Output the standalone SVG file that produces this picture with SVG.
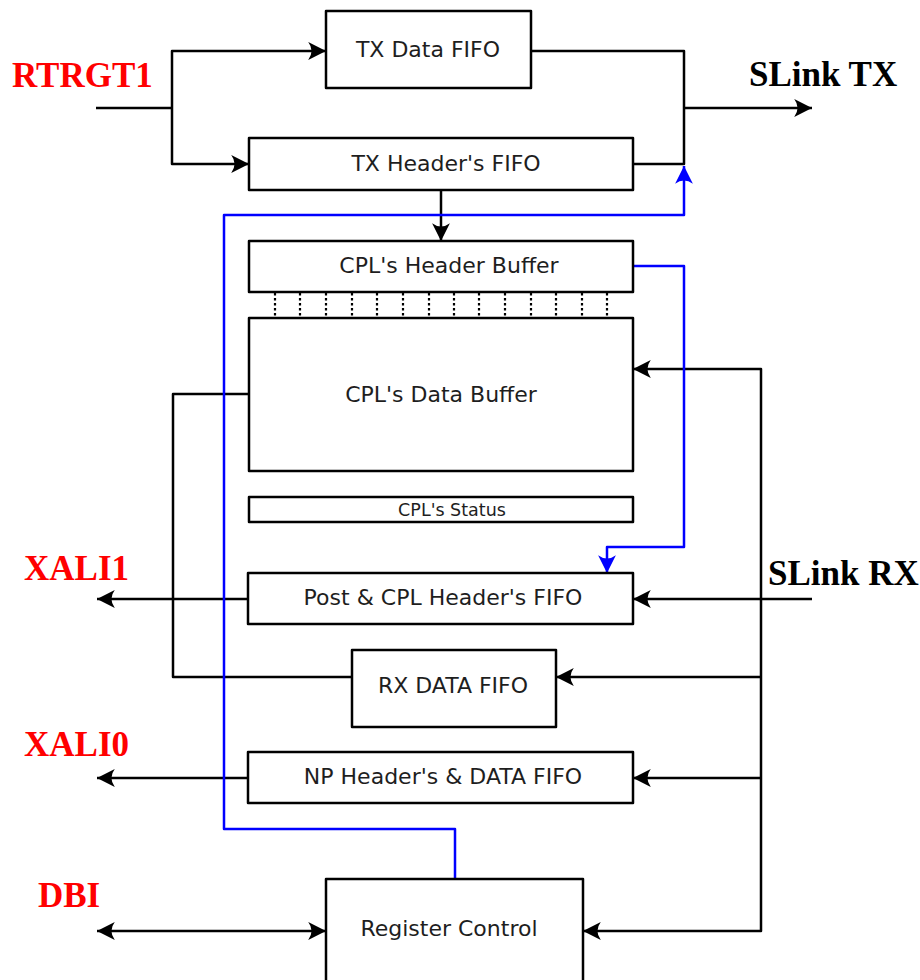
<svg xmlns="http://www.w3.org/2000/svg" width="920" height="980" viewBox="0 0 920 980">
  <style>
    .box { fill: #ffffff; stroke: #000000; stroke-width: 2.5; stroke-linejoin: round; }
    .btxt { font-family: "DejaVu Sans", sans-serif; font-size: 22px; fill: #1e1e1e; text-anchor: middle; }
    .stxt { font-family: "DejaVu Sans", sans-serif; font-size: 17.5px; fill: #1e1e1e; text-anchor: middle; }
    .wire { fill: none; stroke: #000000; stroke-width: 2.5; stroke-linejoin: round; }
    .bus { fill: none; stroke: #0000ff; stroke-width: 2.5; stroke-linejoin: round; }
    .dots { stroke: #000000; stroke-width: 2.2; stroke-dasharray: 2.5 2.5; }
    .port { font-family: "Liberation Serif", serif; font-weight: bold; font-size: 35px; fill: #ff0000; }
    .link { font-family: "Liberation Serif", serif; font-weight: bold; font-size: 35px; fill: #000000; }
  </style>
  <defs>
    <marker id="ah" markerUnits="userSpaceOnUse" markerWidth="20" markerHeight="20" viewBox="-17 -9 18 18" refX="0" refY="0" orient="auto-start-reverse">
      <path d="M0,0 L-16,-8 Q-10,0 -16,8 Z" fill="#000000"/>
    </marker>
    <marker id="ahb" markerUnits="userSpaceOnUse" markerWidth="20" markerHeight="20" viewBox="-17 -9 18 18" refX="0" refY="0" orient="auto">
      <path d="M0,0 L-16,-8 Q-10,0 -16,8 Z" fill="#0000ff"/>
    </marker>
  </defs>

  <rect width="920" height="980" fill="#ffffff"/>

  <!-- connectors -->
  <g id="connectors">
    <!-- RTRGT1 fan-out -->
    <polyline class="wire" points="96,108 172,108"/>
    <polyline class="wire" points="326,51 172,51 172,164 249,164" marker-start="url(#ah)" marker-end="url(#ah)"/>
    <!-- TX FIFOs merge to SLink TX -->
    <polyline class="wire" points="531,51 684,51 684,164 633,164"/>
    <line class="wire" x1="684" y1="108" x2="812" y2="108" marker-end="url(#ah)"/>
    <!-- TX header to CPL header buffer -->
    <line class="wire" x1="441" y1="190" x2="441" y2="241" marker-end="url(#ah)"/>
    <!-- CPL data buffer to RX DATA FIFO loop -->
    <polyline class="wire" points="249,394 173,394 173,677 352,677"/>
    <!-- outputs to XALI1 / XALI0 -->
    <line class="wire" x1="248" y1="599" x2="97" y2="599" marker-end="url(#ah)"/>
    <line class="wire" x1="248" y1="778" x2="97" y2="778" marker-end="url(#ah)"/>
    <!-- SLink RX distribution -->
    <line class="wire" x1="812" y1="599" x2="633" y2="599" marker-end="url(#ah)"/>
    <polyline class="wire" points="633,369 761,369 761,931 583,931" marker-start="url(#ah)" marker-end="url(#ah)"/>
    <line class="wire" x1="761" y1="677" x2="556" y2="677" marker-end="url(#ah)"/>
    <line class="wire" x1="761" y1="778" x2="633" y2="778" marker-end="url(#ah)"/>
    <!-- DBI bidirectional -->
    <line class="wire" x1="97" y1="931" x2="326" y2="931" marker-start="url(#ah)" marker-end="url(#ah)"/>
    <!-- control bus -->
    <polyline class="bus" points="455,879 455,829 224,829 224,215 684,215 684,166" marker-end="url(#ahb)"/>
    <polyline class="bus" points="633,266 684,266 684,547 607,547 607,573" marker-end="url(#ahb)"/>
    <!-- header/data buffer slot ties -->
    <g class="dots">
      <line x1="275" y1="293" x2="275" y2="318"/>
      <line x1="300" y1="293" x2="300" y2="318"/>
      <line x1="326" y1="293" x2="326" y2="318"/>
      <line x1="352" y1="293" x2="352" y2="318"/>
      <line x1="377" y1="293" x2="377" y2="318"/>
      <line x1="403" y1="293" x2="403" y2="318"/>
      <line x1="429" y1="293" x2="429" y2="318"/>
      <line x1="454" y1="293" x2="454" y2="318"/>
      <line x1="479" y1="293" x2="479" y2="318"/>
      <line x1="505" y1="293" x2="505" y2="318"/>
      <line x1="531" y1="293" x2="531" y2="318"/>
      <line x1="556" y1="293" x2="556" y2="318"/>
      <line x1="582" y1="293" x2="582" y2="318"/>
      <line x1="607" y1="293" x2="607" y2="318"/>
    </g>
  </g>

  <!-- blocks -->
  <g id="tx-data-fifo">
    <rect class="box" x="326" y="11" width="205" height="77"/>
    <text class="btxt" x="428" y="57">TX Data FIFO</text>
  </g>
  <g id="tx-header-fifo">
    <rect class="box" x="249" y="138" width="384" height="52"/>
    <text class="btxt" x="446" y="171">TX Header's FIFO</text>
  </g>
  <g id="cpl-header-buffer">
    <rect class="box" x="249" y="241" width="384" height="51"/>
    <text class="btxt" x="449" y="273">CPL's Header Buffer</text>
  </g>
  <g id="cpl-data-buffer">
    <rect class="box" x="249" y="318" width="384" height="153"/>
    <text class="btxt" x="441" y="402">CPL's Data Buffer</text>
  </g>
  <g id="cpl-status">
    <rect class="box" x="249" y="497" width="384" height="25"/>
    <text class="stxt" x="452" y="516">CPL's Status</text>
  </g>
  <g id="post-cpl-header-fifo">
    <rect class="box" x="248" y="573" width="385" height="51"/>
    <text class="btxt" x="443" y="605">Post &amp; CPL Header's FIFO</text>
  </g>
  <g id="rx-data-fifo">
    <rect class="box" x="352" y="650" width="204" height="77"/>
    <text class="btxt" x="453" y="693">RX DATA FIFO</text>
  </g>
  <g id="np-header-data-fifo">
    <rect class="box" x="248" y="752" width="385" height="51"/>
    <text class="btxt" x="443" y="784">NP Header's &amp; DATA FIFO</text>
  </g>
  <g id="register-control">
    <rect class="box" x="326" y="879" width="257" height="120"/>
    <text class="btxt" x="449" y="936">Register Control</text>
  </g>

  <!-- interface labels -->
  <g id="labels">
    <text class="port" x="12" y="87">RTRGT1</text>
    <text class="link" x="749" y="86">SLink TX</text>
    <text class="port" x="24" y="580">XALI1</text>
    <text class="link" x="768" y="585">SLink RX</text>
    <text class="port" x="24" y="756">XALI0</text>
    <text class="port" x="38" y="907">DBI</text>
  </g>
</svg>
